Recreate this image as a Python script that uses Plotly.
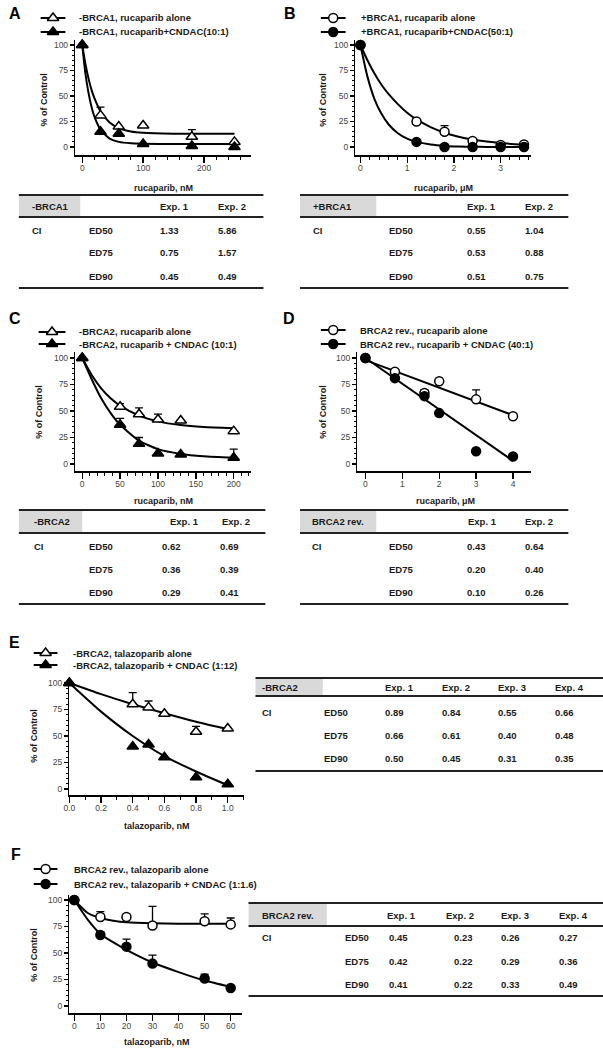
import plotly.graph_objects as go

W, H = 603, 1050
FONT = "Liberation Sans"

# ---------------- data ----------------
# Panel A (-BRCA1, rucaparib nM)
A_dose = [0, 30, 60, 100, 180, 250]
A_alone = [100, 31, 20, 21, 10, 5]
A_alone_err = [0, 8, 0, 0, 7, 0]
A_combo = [100, 15, 13, 3, 1, 0]
A_combo_err = [0, 0, 0, 0, 0, 0]
A_fit_x = [0, 5, 10, 15, 20, 30, 45, 60, 80, 100, 150, 250]
A_fit_alone = [100, 82, 68, 56.5, 48, 35, 24, 18.5, 15.2, 13.9, 13.1, 13]
A_fit_combo = [100, 73, 54, 40, 29.7, 17, 8.3, 5, 3.6, 3.2, 3, 3]
A_names = ["-BRCA1, rucaparib alone", "-BRCA1, rucaparib+CNDAC(10:1)"]

# Panel B (+BRCA1, rucaparib uM)
B_dose = [0, 1.2, 1.8, 2.4, 3.0, 3.5]
B_alone = [100, 25, 15, 6, 2, 2.5]
B_alone_err = [0, 2, 6, 0, 0, 0]
B_combo = [100, 5, 0, 0, 0, 0]
B_combo_err = [0, 0, 0, 0, 0, 0]
B_fit_x = [0, 0.15, 0.3, 0.45, 0.6, 0.8, 1.0, 1.2, 1.5, 1.8, 2.1, 2.4, 2.7, 3.0, 3.5]
B_fit_alone = [100, 85, 72, 61, 52, 42, 33.6, 27, 19.5, 14, 10.1, 7.3, 5.3, 3.8, 2.2]
B_fit_combo = [100, 69, 47, 32.5, 22.3, 13.5, 8.2, 5, 2.4, 1.1, 0.5, 0.2, 0.1, 0, 0]
B_names = ["+BRCA1, rucaparib alone", "+BRCA1, rucaparib+CNDAC(50:1)"]

# Panel C (-BRCA2, rucaparib nM)
C_dose = [0, 50, 75, 100, 130, 200]
C_alone = [100, 54, 47, 42, 41, 31]
C_alone_err = [0, 3, 6, 5, 0, 0]
C_combo = [100, 37, 19, 10, 9, 6]
C_combo_err = [0, 6, 6, 0, 0, 8]
C_fit_x = [0, 12.5, 25, 37.5, 50, 75, 100, 130, 160, 200]
C_fit_alone = [100, 84, 71.4, 62, 55, 45.6, 40.2, 36.7, 34.9, 33.8]
C_fit_combo = [100, 80, 62, 48, 37, 22, 14, 9.5, 7.3, 6]
C_names = ["-BRCA2, rucaparib alone", "-BRCA2, rucaparib + CNDAC (10:1)"]

# Panel D (BRCA2 rev., rucaparib uM)
D_dose = [0, 0.8, 1.6, 2, 3, 4]
D_alone = [100, 87, 67, 78, 61, 45]
D_alone_err = [0, 2, 3, 0, 9, 0]
D_combo = [100, 81, 64, 48, 12, 7]
D_combo_err = [0, 0, 0, 0, 0, 0]
D_fit_x = [0, 4]
D_fit_alone = [98, 46]
D_fit_combo = [100, 3]
D_names = ["BRCA2 rev., rucaparib alone", "BRCA2 rev., rucaparib + CNDAC (40:1)"]

# Panel E (-BRCA2, talazoparib nM)
E_dose = [0, 0.4, 0.5, 0.6, 0.8, 1.0]
E_alone = [100, 80, 77, 71, 54, 57]
E_alone_err = [0, 11, 6, 0, 5, 0]
E_combo = [100, 40, 42, 30, 11, 4.5]
E_combo_err = [0, 0, 0, 0, 0, 0]
E_fit_x = [0, 0.2, 0.4, 0.6, 0.8, 1.0]
E_fit_alone = [100, 89.5, 80, 71.5, 63.5, 56.5]
E_fit_combo = [100, 73, 50, 31, 16.5, 3.5]
E_names = ["-BRCA2, talazoparib alone", "-BRCA2, talazoparib + CNDAC (1:12)"]

# Panel F (BRCA2 rev., talazoparib nM)
F_dose = [0, 10, 20, 30, 50, 60]
F_alone = [100, 84, 84, 76, 80, 77]
F_alone_err = [0, 5, 0, 18, 7, 6]
F_combo = [100, 67, 56, 40, 26, 17]
F_combo_err = [0, 3, 7, 8, 4, 0]
F_fit_x = [0, 5, 10, 15, 20, 30, 40, 50, 60]
F_fit_alone = [100, 88, 83, 80.5, 79, 78, 77.7, 77.5, 77.5]
F_fit_combo = [100, 82, 68, 60, 53, 41, 32, 24, 18]
F_names = ["BRCA2 rev., talazoparib alone", "BRCA2 rev., talazoparib + CNDAC (1:1.6)"]

# Tables
TAB_ROWS = ["ED50", "ED75", "ED90"]
A_tab_head = "-BRCA1"
A_tab_cols = ["Exp. 1", "Exp. 2"]
A_tab_vals = [["1.33", "5.86"], ["0.75", "1.57"], ["0.45", "0.49"]]
B_tab_head = "+BRCA1"
B_tab_cols = ["Exp. 1", "Exp. 2"]
B_tab_vals = [["0.55", "1.04"], ["0.53", "0.88"], ["0.51", "0.75"]]
C_tab_head = "-BRCA2"
C_tab_cols = ["Exp. 1", "Exp. 2"]
C_tab_vals = [["0.62", "0.69"], ["0.36", "0.39"], ["0.29", "0.41"]]
D_tab_head = "BRCA2 rev."
D_tab_cols = ["Exp. 1", "Exp. 2"]
D_tab_vals = [["0.43", "0.64"], ["0.20", "0.40"], ["0.10", "0.26"]]
E_tab_head = "-BRCA2"
E_tab_cols = ["Exp. 1", "Exp. 2", "Exp. 3", "Exp. 4"]
E_tab_vals = [["0.89", "0.84", "0.55", "0.66"], ["0.66", "0.61", "0.40", "0.48"], ["0.50", "0.45", "0.31", "0.35"]]
F_tab_head = "BRCA2 rev."
F_tab_cols = ["Exp. 1", "Exp. 2", "Exp. 3", "Exp. 4"]
F_tab_vals = [["0.45", "0.23", "0.26", "0.27"], ["0.42", "0.22", "0.29", "0.36"], ["0.41", "0.22", "0.33", "0.49"]]

# ---------------- helpers ----------------
def fx(p):
    return p / W

def fy(p):
    return 1 - p / H

fig = go.Figure()
annotations = []
shapes = []

def txt(x, y, s, size=9.5, bold=True, anchor="left", color="#1a1a1a", angle=0):
    annotations.append(dict(
        x=fx(x), y=fy(y), xref="paper", yref="paper", text=s, showarrow=False,
        xanchor=anchor, yanchor="middle", textangle=angle, borderpad=0,
        font=dict(family=FONT, size=size, color=color, weight=700 if bold else 400)))

def hline(x0, x1, y, w=2):
    shapes.append(dict(type="line", xref="paper", yref="paper", x0=fx(x0), x1=fx(x1),
                       y0=fy(y), y1=fy(y), line=dict(color="#222", width=w)))

LEG_AX = 7

def panel(i, letter, letter_pos, dose, alone, alone_err, combo, combo_err,
          fit_x, fit_alone, fit_combo, names, sym, geom, xtitle, xticks, xminor, spline=True):
    xa = "x" if i == 1 else f"x{i}"
    ya = "y" if i == 1 else f"y{i}"
    n = len(dose)
    lshape = dict(color="black", width=2, shape="spline" if spline else "linear", smoothing=0.6)
    fig.add_trace(go.Scatter(x=fit_x, y=fit_alone, mode="lines", line=lshape, xaxis=xa, yaxis=ya,
                             showlegend=False, hoverinfo="skip"))
    fig.add_trace(go.Scatter(x=fit_x, y=fit_combo, mode="lines", line=lshape, xaxis=xa, yaxis=ya,
                             showlegend=False, hoverinfo="skip"))
    eb = dict(type="data", symmetric=False, arrayminus=[0] * n, width=4, thickness=1.3, color="black")
    msize = 10 if sym == "triangle-up" else 9
    fig.add_trace(go.Scatter(x=dose, y=alone, mode="markers", xaxis=xa, yaxis=ya, name=names[0],
                             marker=dict(symbol=sym, size=msize, color="white", line=dict(color="black", width=1.5)),
                             error_y=dict(eb, array=alone_err), showlegend=False, cliponaxis=False))
    fig.add_trace(go.Scatter(x=dose, y=combo, mode="markers", xaxis=xa, yaxis=ya, name=names[1],
                             marker=dict(symbol=sym, size=msize, color="black", line=dict(color="black", width=1.5)),
                             error_y=dict(eb, array=combo_err), showlegend=False, cliponaxis=False))
    (x0, x1), (ytop, ybot), xr, (y100, y0) = geom["dx"], geom["dy"], geom["xr"], geom["ymap"]
    ppu = (y0 - y100) / 100.0
    yr = [(y0 - ybot) / ppu, (y0 - ytop) / ppu]
    axfont = dict(family=FONT, size=8.5, color="#444")
    fig.layout[f"xaxis{'' if i == 1 else i}"] = dict(
        domain=[fx(x0), fx(x1)], range=xr, anchor=ya, showgrid=False, zeroline=False,
        showline=True, linecolor="black", linewidth=1.5, ticks="outside", ticklen=6, tickwidth=1.3,
        tickcolor="black", tickmode="array", tickvals=xticks[0], ticktext=xticks[1], tickfont=axfont,
        ticklabelstandoff=-2,
        minor=dict(tickmode="array", tickvals=xminor, ticklen=3, tickwidth=1, tickcolor="black", ticks="outside") if xminor else None,
        fixedrange=True)
    fig.layout[f"yaxis{'' if i == 1 else i}"] = dict(
        domain=[fy(ybot), fy(ytop)], range=yr, anchor=xa, showgrid=False, zeroline=False,
        showline=True, linecolor="black", linewidth=1.5, ticks="outside", ticklen=4, tickwidth=1.3,
        tickcolor="black", tickmode="array", tickvals=[0, 25, 50, 75, 100], tickfont=axfont,
        minor=dict(tickmode="array", tickvals=[v for v in range(5, 100, 5) if v % 25], ticklen=2,
                   tickwidth=1, tickcolor="black", ticks="outside"),
        fixedrange=True)
    # axis titles
    txt(geom["xt"][0], geom["xt"][1], xtitle, size=9)
    txt(geom["yt"][0], geom["yt"][1], "% of Control", size=9, anchor="center", angle=-90)
    # panel letter
    txt(letter_pos[0], letter_pos[1], letter, size=16, anchor="center", color="black")
    # legend glyphs
    lx0, lx1, lys, ltx = geom["leg"]
    for k, (fill, name) in enumerate(zip(["white", "black"], names)):
        fig.add_trace(go.Scatter(x=[lx0, lx1], y=[lys[k], lys[k]], mode="lines",
                                 line=dict(color="black", width=2), xaxis=f"x{LEG_AX}", yaxis=f"y{LEG_AX}",
                                 showlegend=False, hoverinfo="skip"))
        fig.add_trace(go.Scatter(x=[(lx0 + lx1) / 2], y=[lys[k]], mode="markers",
                                 marker=dict(symbol=sym, size=msize, color=fill, line=dict(color="black", width=1.5)),
                                 xaxis=f"x{LEG_AX}", yaxis=f"y{LEG_AX}", showlegend=False, hoverinfo="skip"))
        txt(ltx, lys[k], name, size=9.5)

def table(head, cols, vals, g):
    left, right, top, hb, bot, gray_r = g["box"]
    shapes.append(dict(type="rect", xref="paper", yref="paper", x0=fx(left), x1=fx(gray_r),
                       y0=fy(hb), y1=fy(top), fillcolor="#d9d9d9", line=dict(width=0), layer="below"))
    hline(left, right, top)
    hline(left, right, hb)
    hline(left, right, bot)
    txt(g["c0"], g["hy"], head, size=9.5)
    for cx, c in zip(g["hx"], cols):
        txt(cx, g["hy"], c, size=9.5)
    for r, (lab, row) in enumerate(zip(TAB_ROWS, vals)):
        y = g["ry"][r]
        if r == 0:
            txt(g["c0"], y, "CI", size=9.5)
        txt(g["c1"], y, lab, size=9.5)
        for cx, v in zip(g["vx"], row):
            txt(cx, y, v, size=9.5)

# ---------------- panels ----------------
panel(1, "A", (9, 13), A_dose, A_alone, A_alone_err, A_combo, A_combo_err,
      A_fit_x, A_fit_alone, A_fit_combo, A_names, "triangle-up",
      dict(dx=(70, 247), dy=(40, 155), xr=[-11.4, 276.4], ymap=(45, 147),
           xt=(128, 188), yt=(38, 100), leg=(35, 60, (18, 32), 73)),
      "rucaparib, nM", ([0, 100, 200], ["0", "100", "200"]), list(range(20, 280, 20)))
panel(2, "B", (287, 13), B_dose, B_alone, B_alone_err, B_combo, B_combo_err,
      B_fit_x, B_fit_alone, B_fit_combo, B_names, "circle",
      dict(dx=(353, 530), dy=(40, 155), xr=[-0.106, 3.644], ymap=(45, 147),
           xt=(411, 188), yt=(320, 100), leg=(318, 343, (18, 32), 358)),
      "rucaparib, μM", ([0, 1, 2, 3], ["0", "1", "2", "3"]), [0.2 * k for k in range(1, 19)])
panel(3, "C", (9, 319), C_dose, C_alone, C_alone_err, C_combo, C_combo_err,
      C_fit_x, C_fit_alone, C_fit_combo, C_names, "triangle-up",
      dict(dx=(70, 247), dy=(352, 471), xr=[-9.15, 222.2], ymap=(358, 464),
           xt=(128, 501), yt=(33, 412), leg=(33, 60, (332, 344), 73)),
      "rucaparib, nM", ([0, 50, 100, 150, 200], ["0", "50", "100", "150", "200"]), list(range(10, 221, 10)))
panel(4, "D", (286, 319), D_dose, D_alone, D_alone_err, D_combo, D_combo_err,
      D_fit_x, D_fit_alone, D_fit_combo, D_names, "circle",
      dict(dx=(355, 530), dy=(352, 471), xr=[-0.215, 4.48], ymap=(358, 464),
           xt=(413, 501), yt=(320, 412), leg=(318, 343, (330, 344), 357)),
      "rucaparib, μM", ([0, 1, 2, 3, 4], ["0", "1", "2", "3", "4"]), None, spline=False)
panel(5, "E", (9, 642), E_dose, E_alone, E_alone_err, E_combo, E_combo_err,
      E_fit_x, E_fit_alone, E_fit_combo, E_names, "triangle-up",
      dict(dx=(64, 240), dy=(678, 795), xr=[0, 1.1], ymap=(683, 789),
           xt=(118, 826), yt=(28, 736), leg=(28, 52, (653, 665), 67)),
      "talazoparib, nM", ([0, 0.2, 0.4, 0.6, 0.8, 1.0], ["0.0", "0.2", "0.4", "0.6", "0.8", "1.0"]),
      [0.1, 0.3, 0.5, 0.7, 0.9, 1.1])
panel(6, "F", (10, 854), F_dose, F_alone, F_alone_err, F_combo, F_combo_err,
      F_fit_x, F_fit_alone, F_fit_combo, F_names, "circle",
      dict(dx=(64, 238), dy=(895, 1013), xr=[-1.9, 64.2], ymap=(900, 1006),
           xt=(118, 1042), yt=(28, 955), leg=(28, 52, (869, 884), 68)),
      "talazoparib, nM", ([0, 10, 20, 30, 40, 50, 60], ["0", "10", "20", "30", "40", "50", "60"]), None)

# legend overlay axis (pixel coordinates)
fig.layout[f"xaxis{LEG_AX}"] = dict(domain=[0, 1], range=[0, W], visible=False, fixedrange=True)
fig.layout[f"yaxis{LEG_AX}"] = dict(domain=[0, 1], range=[H, 0], visible=False, fixedrange=True, anchor=f"x{LEG_AX}")

# ---------------- tables ----------------
table(A_tab_head, A_tab_cols, A_tab_vals,
      dict(box=(13, 260, 195, 217, 288, 75), hy=206, ry=(230, 253, 276), c0=25, c1=83,
           hx=(155, 213), vx=(155, 213)))
table(B_tab_head, B_tab_cols, B_tab_vals,
      dict(box=(297, 568, 195, 217, 288, 374), hy=206, ry=(230, 253, 276), c0=309, c1=386,
           hx=(465, 523), vx=(465, 523)))
table(C_tab_head, C_tab_cols, C_tab_vals,
      dict(box=(13, 262, 510, 533, 604, 77), hy=521, ry=(546, 569, 592), c0=27, c1=83,
           hx=(165, 217), vx=(157, 215)))
table(D_tab_head, D_tab_cols, D_tab_vals,
      dict(box=(297, 568, 510, 533, 604, 374), hy=521, ry=(546, 569, 592), c0=308, c1=386,
           hx=(466, 523), vx=(465, 523)))
table(E_tab_head, E_tab_cols, E_tab_vals,
      dict(box=(252, 603, 678, 696, 771, 320), hy=687, ry=(712, 735, 758), c0=258, c1=320,
           hx=(382, 439, 496, 554), vx=(382, 439, 496, 554)))
table(F_tab_head, F_tab_cols, F_tab_vals,
      dict(box=(245, 603, 903, 926, 996, 324), hy=915, ry=(937, 961, 984), c0=258, c1=341,
           hx=(384, 443, 499, 558), vx=(386, 451, 499, 558)))

fig.update_layout(width=W, height=H, margin=dict(l=0, r=0, t=0, b=0),
                  paper_bgcolor="white", plot_bgcolor="rgba(0,0,0,0)",
                  annotations=annotations, shapes=shapes, showlegend=False,
                  font=dict(family=FONT))
fig.write_html("out.html", config={"staticPlot": True},
               post_script="document.body.style.margin='0';document.body.style.padding='0';"
                           "document.documentElement.style.overflow='hidden';")
